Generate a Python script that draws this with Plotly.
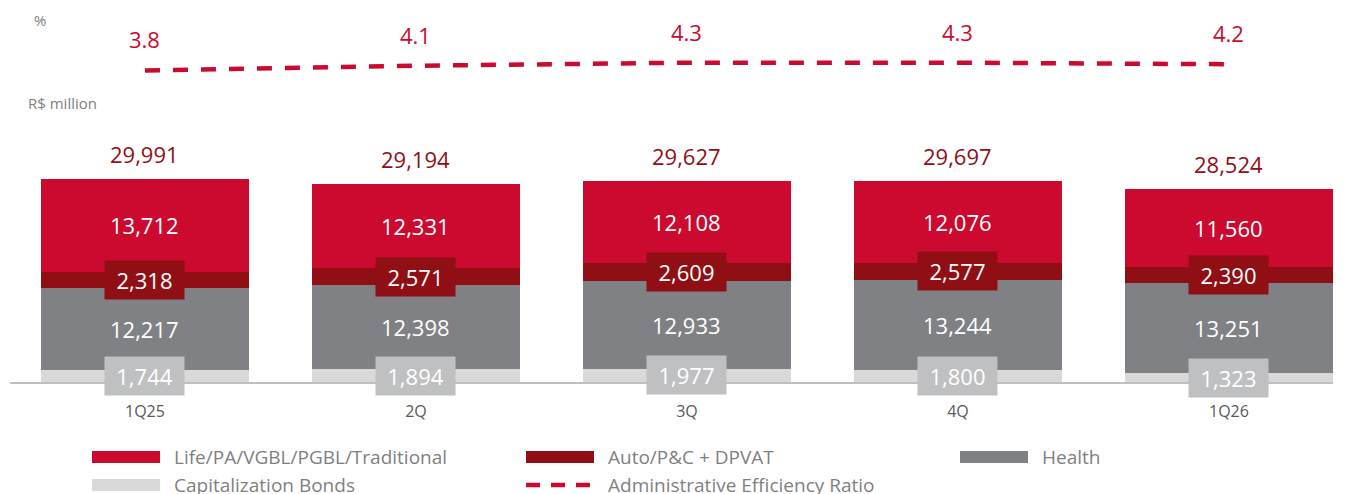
import plotly.graph_objects as go

categories = ["1Q25", "2Q", "3Q", "4Q", "1Q26"]
life = [13712, 12331, 12108, 12076, 11560]
auto = [2318, 2571, 2609, 2577, 2390]
health = [12217, 12398, 12933, 13244, 13251]
cap_bonds = [1744, 1894, 1977, 1800, 1323]
totals = [29991, 29194, 29627, 29697, 28524]
efficiency = [3.8, 4.1, 4.3, 4.3, 4.2]

C_LIFE = "#CC0A2F"
C_AUTO = "#8F0F14"
C_HEALTH = "#808184"
C_CAP = "#D9D9D9"
C_CAPBOX = "#BFC0C2"
C_TOTAL = "#8F0F14"
C_GRAY = "#7F7F7F"
FONT = "Open Sans"

# page body has an 8px margin; figure is sized to fill the rest of the window
OFF = 8
W, H = 1351 - OFF, 494 - OFF
# plot area in screen pixels: x 10..1333, y 8..382
SX0, SX1, SY0, SY1 = 10, 1333, 8, 382
ML, MR, MT, MB = SX0 - OFF, W - (SX1 - OFF), SY0 - OFF, H - (SY1 - OFF)
PW = SX1 - SX0
PH = SY1 - SY0

def px_x(px):
    return (px - SX0) / PW

def px_y(py):
    return (SY1 - py) / PH

x = list(range(len(categories)))
fig = go.Figure()

series = [
    ("Capitalization Bonds", cap_bonds, C_CAP),
    ("Health", health, C_HEALTH),
    ("Auto/P&C + DPVAT", auto, C_AUTO),
    ("Life/PA/VGBL/PGBL/Traditional", life, C_LIFE),
]
for name, vals, col in series:
    fig.add_trace(go.Bar(x=x, y=vals, name=name, marker=dict(color=col, line=dict(width=0)),
                         width=0.7675, showlegend=False, hoverinfo="y+name"))

fig.add_trace(go.Scatter(x=x, y=efficiency, yaxis="y2", mode="lines",
                         line=dict(color=C_LIFE, width=4.5, dash="15px,13px"),
                         showlegend=False, name="Administrative Efficiency Ratio"))

annotations = []
for i in x:
    base = 0
    segs = [(cap_bonds[i], C_CAPBOX), (health[i], None), (auto[i], C_AUTO), (life[i], None)]
    for v, box in segs:
        center = base + v / 2
        a = dict(x=i, y=center, xref="x", yref="y", text=f"{v:,}", showarrow=False,
                 font=dict(family=FONT, size=22, color="white"), xanchor="center", yanchor="middle")
        if box:
            a.update(bgcolor=box, width=79, height=38, borderpad=0)
        annotations.append(a)
        base += v
    annotations.append(dict(x=i, y=totals[i], xref="x", yref="y", text=f"{totals[i]:,}",
                            showarrow=False, yanchor="middle", yshift=25,
                            font=dict(family=FONT, size=22, color=C_TOTAL)))
    annotations.append(dict(x=i, y=efficiency[i], xref="x", yref="y2", text=f"{efficiency[i]:.1f}",
                            showarrow=False, yanchor="middle", yshift=31,
                            font=dict(family=FONT, size=22, color=C_LIFE)))

annotations.append(dict(x=px_x(40), y=px_y(20), xref="paper", yref="paper", text="%", showarrow=False,
                        xanchor="center", yanchor="middle", font=dict(family=FONT, size=15, color=C_GRAY)))
annotations.append(dict(x=px_x(26), y=px_y(103), xref="paper", yref="paper", text="R$ million",
                        showarrow=False, xanchor="left", yanchor="middle",
                        font=dict(family=FONT, size=15, color=C_GRAY)))

# legend (manual)
legend_items = [
    ("Life/PA/VGBL/PGBL/Traditional", C_LIFE, 92, 457, "rect"),
    ("Auto/P&C + DPVAT", C_AUTO, 526, 457, "rect"),
    ("Health", C_HEALTH, 960, 457, "rect"),
    ("Capitalization Bonds", C_CAP, 92, 485, "rect"),
    ("Administrative Efficiency Ratio", C_LIFE, 526, 485, "dash"),
]
shapes = []
for label, col, lx, ly, kind in legend_items:
    if kind == "rect":
        shapes.append(dict(type="rect", xref="paper", yref="paper", x0=px_x(lx), x1=px_x(lx + 68),
                           y0=px_y(ly + 6), y1=px_y(ly - 6), fillcolor=col, line=dict(width=0)))
    else:
        shapes.append(dict(type="line", xref="paper", yref="paper", x0=px_x(lx), x1=px_x(lx + 68),
                           y0=px_y(ly), y1=px_y(ly), line=dict(color=col, width=4.5, dash="14px,11px")))
    annotations.append(dict(x=px_x(lx + 80), y=px_y(ly), xref="paper", yref="paper", text=label,
                            showarrow=False, xanchor="left", yanchor="middle",
                            font=dict(family=FONT, size=19, color=C_GRAY)))

# y scales: 0 at screen y 382, 29,991 at screen y 179; line: 3.8 at y 70.5, 15.6 px per unit
y_top = (SY1 - SY0) * 56436 / 382
y2_lo = -16.17
y2_hi = y2_lo + (SY1 - SY0) / 15.6

fig.update_layout(
    width=W, height=H,
    margin=dict(l=ML, r=MR, t=MT, b=MB, pad=0),
    paper_bgcolor="white", plot_bgcolor="white",
    barmode="stack",
    showlegend=False,
    xaxis=dict(range=[-0.498, 4.384], tickvals=x, ticktext=categories, showgrid=False, zeroline=False,
               showline=True, linecolor="#BFBFBF", linewidth=2, ticks="", ticklabelstandoff=14,
               tickfont=dict(family=FONT, size=16, color="#595959"), fixedrange=True),
    yaxis=dict(range=[0, y_top], visible=False, showgrid=False, zeroline=False),
    yaxis2=dict(range=[y2_lo, y2_hi], overlaying="y", visible=False, showgrid=False, zeroline=False),
    annotations=annotations,
    shapes=shapes,
    font=dict(family=FONT),
)

fig.write_html("out.html")
